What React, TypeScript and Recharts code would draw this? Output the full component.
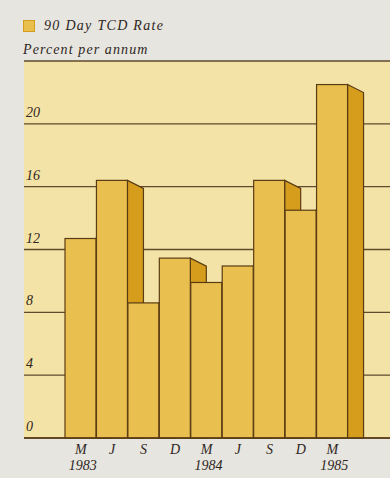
import React from 'react';
import { BarChart, Bar, XAxis, YAxis, CartesianGrid } from 'recharts';

// Quarterly readings, Mar 1983 to Mar 1985
const months = ['M', 'J', 'S', 'D', 'M', 'J', 'S', 'D', 'M'];
const years = ['1983', '', '', '', '1984', '', '', '', '1985'];
const rates = [12.7, 16.4, 8.6, 11.45, 9.9, 10.95, 16.4, 14.5, 22.5];
const yTicks = [0, 4, 8, 12, 16, 20, 24];

const colors = {
  page: '#e6e5df',
  panel: '#f4e3a6',
  front: '#e9bf4f',
  side: '#d69d1d',
  outline: '#5a3c14',
  grid: '#5e4a2c',
  text: '#2f2622',
};

const serif = "'Liberation Serif', 'DejaVu Serif', serif";

const data = months.map((month, i) => ({ month, year: years[i], rate: rates[i] }));

// Front face plus a slanted right side; the following bar covers the side when it is taller
const Block3D = (props: any) => {
  const { x, y, width, height } = props;
  const depth = 16;
  const slope = 8;
  const base = y + height;
  const right = x + width;
  return (
    <g>
      <polygon
        points={`${right},${y} ${right + depth},${y + slope} ${right + depth},${base} ${right},${base}`}
        fill={colors.side}
        stroke={colors.outline}
        strokeWidth={1.2}
      />
      <rect x={x} y={y} width={width} height={height} fill={colors.front} stroke={colors.outline} strokeWidth={1.2} />
    </g>
  );
};

const YTick = ({ y, payload }: any) => {
  if (payload.value === 24) return null;
  return (
    <text x={26} y={y - 7} fontFamily={serif} fontStyle="italic" fontSize={14} fill={colors.text}>
      {payload.value}
    </text>
  );
};

const XTick = ({ x, y, payload }: any) => {
  const year = years[payload.index];
  return (
    <g>
      <text x={x} y={y + 8} textAnchor="middle" fontFamily={serif} fontStyle="italic" fontSize={14} fill={colors.text}>
        {payload.value}
      </text>
      {year && (
        <text x={x + 2} y={y + 24} textAnchor="middle" fontFamily={serif} fontStyle="italic" fontSize={14} fill={colors.text}>
          {year}
        </text>
      )}
    </g>
  );
};

export default function App() {
  return (
    <div style={{ position: 'relative', width: 390, height: 478, background: colors.page }}>
      <style>{`body{margin:0;background:${colors.page}}`}</style>
      <div style={{ position: 'absolute', left: 23, top: 16, fontFamily: serif, fontStyle: 'italic', color: colors.text }}>
        <div style={{ display: 'flex', alignItems: 'center', fontSize: 14, letterSpacing: 1.3, height: 20 }}>
          <span
            style={{
              display: 'inline-block',
              width: 10,
              height: 10,
              background: colors.front,
              border: `1px solid ${colors.side}`,
              marginRight: 9,
            }}
          />
          90 Day TCD Rate
        </div>
        <div style={{ fontSize: 14, letterSpacing: 1.1, marginTop: 6 }}>Percent per annum</div>
      </div>
      <BarChart
        width={390}
        height={478}
        data={data}
        margin={{ top: 61, right: 0, left: 24, bottom: 0 }}
        barCategoryGap={0}
      >
        <CartesianGrid
          vertical={false}
          fill={colors.panel}
          fillOpacity={1}
          stroke={colors.grid}
          strokeWidth={1.3}
        />
        <XAxis
          dataKey="month"
          height={40}
          padding={{ left: 41, right: 42 }}
          axisLine={{ stroke: colors.outline, strokeWidth: 1.5 }}
          tickLine={false}
          tick={<XTick />}
          interval={0}
        />
        <YAxis
          domain={[0, 24]}
          ticks={yTicks}
          mirror
          axisLine={false}
          tickLine={false}
          tick={<YTick />}
        />
        <Bar dataKey="rate" shape={<Block3D />} isAnimationActive={false} />
      </BarChart>
    </div>
  );
}
